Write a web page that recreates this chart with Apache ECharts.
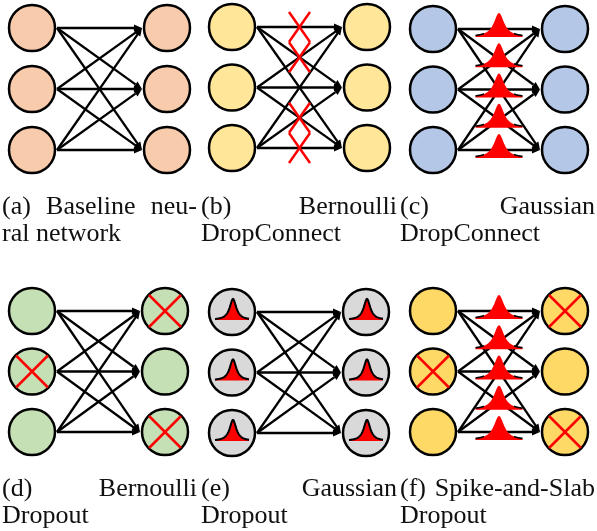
<!DOCTYPE html>
<html><head><meta charset="utf-8">
<script src="https://cdn.jsdelivr.net/npm/echarts@6/dist/echarts.min.js"></script>
<style>html,body{margin:0;padding:0;background:#fff}#c{width:597px;height:531px}</style>
</head><body><div id="c"></div>
<script>
// ---- data ----
const panelIds = ['a','b','c','d','e','f'];
const captionLine1 = [['(a)','Baseline','neu-'],['(b)','Bernoulli'],['(c)','Gaussian'],['(d)','Bernoulli'],['(e)','Gaussian'],['(f)','Spike-and-Slab']];
const captionLine2 = ['ral network','DropConnect','DropConnect','Dropout','Dropout','Dropout'];
const nodeFill = ['#f8cbad','#ffe699','#b4c7e7','#c5e0b4','#d9d9d9','#ffd966'];
const nodes = [[0,0],[0,1],[0,2],[1,0],[1,1],[1,2]];            // [layer,row]
const edges = [[0,0],[0,1],[0,2],[1,0],[1,1],[1,2],[2,0],[2,1],[2,2]]; // [fromRow,toRow]
const droppedNodes = [[],[],[],[[1,0],[0,1],[1,2]],[],[[1,0],[0,1],[1,2]]];
const droppedEdges = [[],[[0,0],[0,1],[1,2],[2,2]],[],[],[],[]];
const edgeNoiseRows = [[],[],[0,0.5,1,1.5,2],[],[],[0,0.5,1,1.5,2]];
const nodeNoise = [false,false,false,false,true,false];

// ---- layout ----
const gridLeft = [32,232,433,32,232,433];
const gridRight = [167,367,565,165,366,565];
const gridTop = [28,27,29,311,312,311];
const gridBottom = [150,148,150,432,433,432];
const textLeft = [2,201,400], textRight = [197,397,595];
const baseline1 = [216,498], baseline2 = [243,525];
const FONT = '26px "Liberation Serif"';
const NR = 23;

const chart = echarts.init(document.getElementById('c'), null, {renderer:'canvas'});

function bellPoints(cx, by, hw, h, s, off){
  const pts = [];
  for (let t=-hw; t<=hw+0.001; t+=0.5){
    pts.push([cx+t, by - h/(1+Math.pow((t-(off||0))/s,2))]);
  }
  return pts;
}
function bellGroup(cx, by, hw, h, s, off, fullOutline){
  const pts = bellPoints(cx, by, hw, h, s, off);
  const poly = pts.concat([[cx+hw,by],[cx-hw,by]]);
  const ch = [{type:'polygon', shape:{points:poly}, style:{fill:'#ff0000', stroke:null}}];
  if (fullOutline){
    ch.push({type:'polyline', shape:{points:pts}, style:{stroke:'#000', lineWidth:2, fill:null}});
  } else {
    const left = pts.filter(p=>p[0] < cx + (off||0) - s*2.4);
    const right = pts.filter(p=>p[0] > cx + (off||0) + s*2.4);
    ch.push({type:'polyline', shape:{points:left}, style:{stroke:'#000', lineWidth:1.6, fill:null}});
    ch.push({type:'polyline', shape:{points:right}, style:{stroke:'#000', lineWidth:1.6, fill:null}});
  }
  return ch;
}
function crossShape(cx, cy, hx, hy){
  return [
    {type:'line', shape:{x1:cx-hx,y1:cy-hy,x2:cx+hx,y2:cy+hy}, style:{stroke:'#ff0000', lineWidth:2.5}},
    {type:'line', shape:{x1:cx+hx,y1:cy-hy,x2:cx-hx,y2:cy+hy}, style:{stroke:'#ff0000', lineWidth:2.5}}
  ];
}

const grids=[], xAxes=[], yAxes=[], series=[];
panelIds.forEach((id, pi) => {
  grids.push({left:gridLeft[pi], top:gridTop[pi], width:gridRight[pi]-gridLeft[pi], height:gridBottom[pi]-gridTop[pi], containLabel:false});
  xAxes.push({gridIndex:pi, type:'value', min:0, max:1, show:false});
  yAxes.push({gridIndex:pi, type:'value', min:0, max:2, inverse:true, show:false});
  // edges
  series.push({type:'custom', xAxisIndex:pi, yAxisIndex:pi, clip:false, z:1, silent:true,
    data: edges,
    renderItem: (params, api) => {
      const a = api.coord([0, api.value(0)]), b = api.coord([1, api.value(1)]);
      const x1 = a[0]+NR+2, y1 = a[1], x2 = b[0]-NR-2, y2 = b[1];
      const dx = x2-x1, dy = y2-y1, len = Math.hypot(dx,dy), ux = dx/len, uy = dy/len;
      const hl = 8, hw = 3.5;
      const bx = x2-ux*hl, by = y2-uy*hl;
      return {type:'group', children:[
        {type:'line', shape:{x1, y1, x2:bx, y2:by}, style:{stroke:'#000', lineWidth:2.3}},
        {type:'polygon', shape:{points:[[x2,y2],[bx-uy*hw,by+ux*hw],[bx+uy*hw,by-ux*hw]]}, style:{fill:'#000'}}
      ]};
    }});
  // nodes
  series.push({type:'custom', xAxisIndex:pi, yAxisIndex:pi, clip:false, z:2, silent:true,
    data: nodes,
    renderItem: (params, api) => {
      const L = api.value(0), R = api.value(1);
      const c = api.coord([L, R]);
      const ch = [{type:'circle', shape:{cx:c[0], cy:c[1], r:NR}, style:{fill:nodeFill[pi], stroke:'#000', lineWidth:2.5}}];
      if (droppedNodes[pi].some(d => d[0]===L && d[1]===R)) ch.push(...crossShape(c[0], c[1], 16, 16));
      if (nodeNoise[pi]) ch.push(...bellGroup(c[0], c[1]+8, 17, 21, 4, 1, true));
      return {type:'group', children:ch};
    }});
  // edge marks: Bernoulli crosses
  if (droppedEdges[pi].length) series.push({type:'custom', xAxisIndex:pi, yAxisIndex:pi, clip:false, z:3, silent:true,
    data: droppedEdges[pi],
    renderItem: (params, api) => {
      const c = api.coord([0.5, (api.value(0)+api.value(1))/2]);
      return {type:'group', children:crossShape(c[0], c[1], 10.5, 15)};
    }});
  // edge marks: Gaussian bells
  if (edgeNoiseRows[pi].length) series.push({type:'custom', xAxisIndex:pi, yAxisIndex:pi, clip:false, z:3, silent:true,
    data: edgeNoiseRows[pi].map(r => [0.5, r]),
    renderItem: (params, api) => {
      const c = api.coord([api.value(0), api.value(1)]);
      return {type:'group', children:bellGroup(c[0], c[1]+8, 23.5, 24, 6.2, 0, false)};
    }});
});

// captions (justified like the source)
const mctx = document.createElement('canvas').getContext('2d');
mctx.font = FONT;
const graphics = [];
panelIds.forEach((id, pi) => {
  const col = pi % 3, band = Math.floor(pi/3);
  const words = captionLine1[pi];
  const widths = words.map(w => mctx.measureText(w).width);
  const total = widths.reduce((s,v)=>s+v,0);
  const gap = (textRight[col]-textLeft[col]-total)/(words.length-1);
  let x = textLeft[col];
  words.forEach((w, wi) => {
    graphics.push({type:'text', x:x, y:baseline1[band]-9, style:{text:w, font:FONT, fill:'#111', verticalAlign:'middle', align:'left'}});
    x += widths[wi] + gap;
  });
  graphics.push({type:'text', x:textLeft[col], y:baseline2[band]-9, style:{text:captionLine2[pi], font:FONT, fill:'#111', verticalAlign:'middle', align:'left'}});
});

chart.setOption({
  backgroundColor:'#ffffff',
  animation:false,
  grid:grids, xAxis:xAxes, yAxis:yAxes, series:series,
  graphic:graphics
});
</script></body></html>
